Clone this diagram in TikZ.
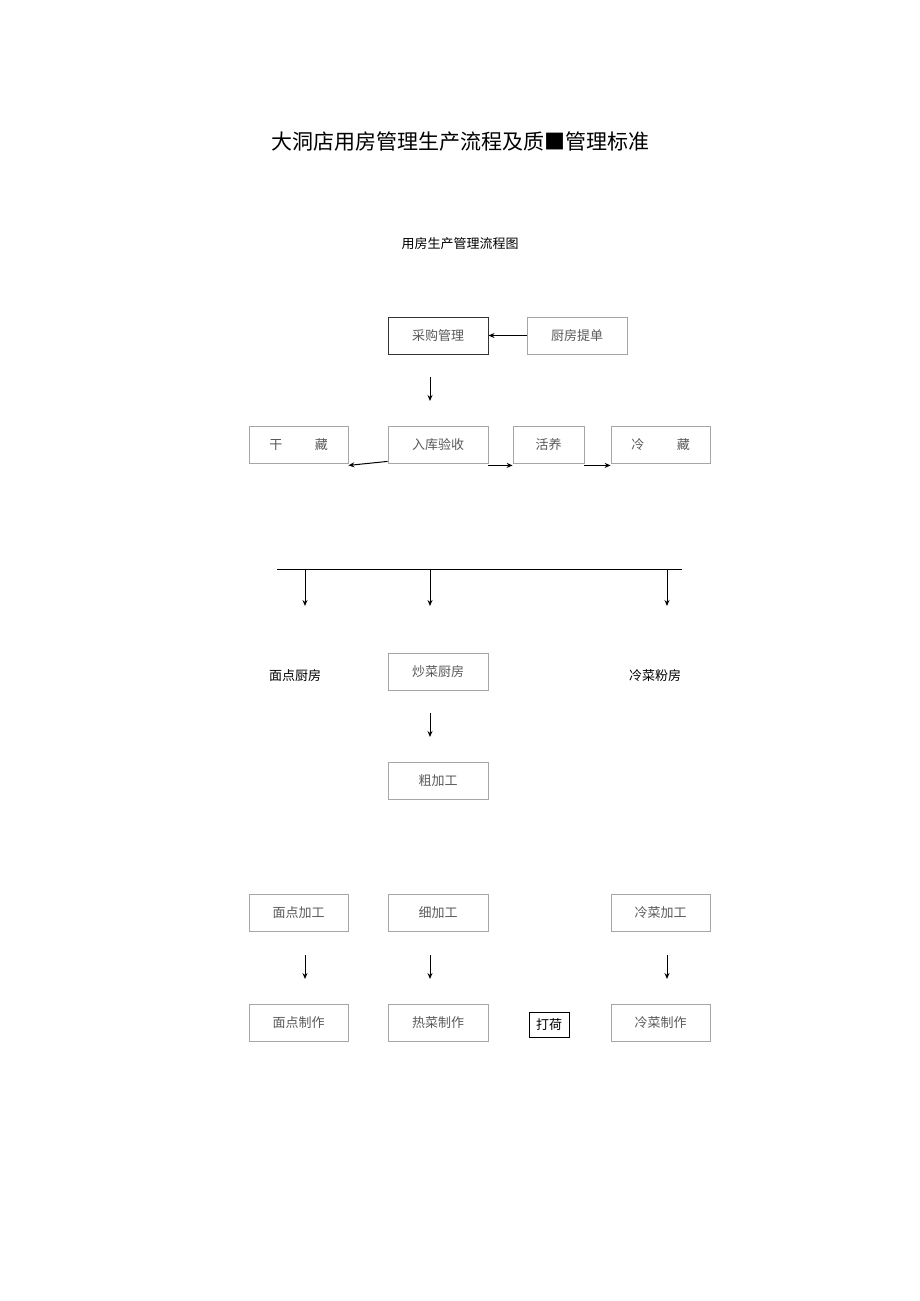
\documentclass[tikz,border=0pt]{standalone}
\usepackage{fontspec}
\newfontfamily\cjk{Noto Sans CJK SC}
\usetikzlibrary{arrows.meta}
\begin{document}
\begin{tikzpicture}[x=1pt,y=-1pt,
 bx/.style={draw=gray!70,line width=0.8pt,font=\cjk\fontsize{13}{13}\selectfont,text=gray!70!black},
 ar/.style={-{Stealth[length=6pt,width=5pt]},line width=1pt},
 lbl/.style={font=\cjk\fontsize{13}{13}\selectfont}]
\useasboundingbox (0,0) rectangle (920,1301);
\node[font=\cjk\fontsize{21}{21}\selectfont] (title) at (460,142) {大洞店用房管理生产流程及质■管理标准};
\node[lbl] (sub) at (460,244) {用房生产管理流程图};
\newcommand\bxat[6]{\node[bx,#6,minimum width=#4-#2,minimum height=37,inner sep=0] (#1) at ({(#2+#4)/2},{#3+18.5}) {#5};}
\bxat{cg}{388}{317}{488}{采购管理}{draw=black!80,line width=1pt}
\bxat{cf}{527}{317}{627}{厨房提单}{}
\bxat{gz}{249}{426}{348}{干\hspace{2.5em}藏}{}
\bxat{rk}{388}{426}{488}{入库验收}{}
\bxat{hy}{513}{426}{584}{活养}{}
\bxat{lz}{611}{426}{710}{冷\hspace{2.5em}藏}{}
\bxat{cc}{388}{653}{488}{炒菜厨房}{}
\bxat{cj}{388}{762}{488}{粗加工}{}
\bxat{mj}{249}{894}{348}{面点加工}{}
\bxat{xj}{388}{894}{488}{细加工}{}
\bxat{lj}{611}{894}{710}{冷菜加工}{}
\bxat{mz}{249}{1004}{348}{面点制作}{}
\bxat{rz}{388}{1004}{488}{热菜制作}{}
\bxat{lzz}{611}{1004}{710}{冷菜制作}{}
\node[draw,line width=0.6pt,minimum width=40,minimum height=25,inner sep=0,lbl] (dh) at (549,1025) {打荷};
\node[lbl] (md) at (295,676) {面点厨房};
\node[lbl] (lf) at (655,676) {冷菜粉房};
\draw[ar] (cf.west) -- (cg.east);
\coordinate (a1) at (430,377); \coordinate (a2) at (430,401);
\draw[ar] (a1) -- (a2);
\draw[ar] (rk.south west)++(0,-2) -- ([yshift=-2]gz.south east);
\draw[ar] ([yshift=-2]rk.south east) -- ([yshift=-2]hy.south west);
\draw[ar] ([yshift=-2]hy.south east) -- ([yshift=-2]lz.south west);
\coordinate (hl) at (277,569); \coordinate (hr) at (682,569);
\draw[line width=1pt] (hl) -- (hr);
\foreach \x in {305,430,667}{\coordinate (s\x) at (\x,569); \coordinate (e\x) at (\x,606); \draw[ar] (s\x) -- (e\x);}
\coordinate (b1) at (430,713); \coordinate (b2) at (430,737); \draw[ar] (b1) -- (b2);
\foreach \x in {305,430,667}{\coordinate (t\x) at (\x,955); \coordinate (u\x) at (\x,979); \draw[ar] (t\x) -- (u\x);}
\end{tikzpicture}
\end{document}
